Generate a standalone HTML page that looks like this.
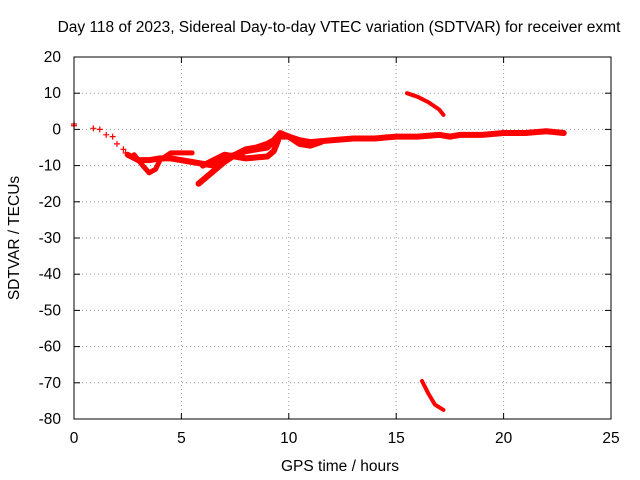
<!DOCTYPE html>
<html><head><meta charset="utf-8"><style>
body{margin:0;background:#fff}
svg{display:block;font-family:"Liberation Sans",sans-serif}
</style></head><body>
<svg id="chart" width="640" height="480" viewBox="0 0 640 480">
<rect width="640" height="480" fill="#fff"/>
<text x="339" y="32" font-size="15.5" text-anchor="middle">Day 118 of 2023, Sidereal Day-to-day VTEC variation (SDTVAR) for receiver exmt</text>
<text x="340" y="471" font-size="15.5" text-anchor="middle">GPS time / hours</text>
<text transform="translate(19,238) rotate(-90)" font-size="15.5" text-anchor="middle">SDTVAR / TECUs</text>
<g id="grid"></g>
<g id="ticks"></g>
<g id="series"></g>
<rect x="74" y="57" width="537" height="362" fill="none" stroke="#000" stroke-width="1"/>
</svg>
<script>
const xTicks=[0,5,10,15,20,25];
const yTicks=[20,10,0,-10,-20,-30,-40,-50,-60,-70,-80];
const trackMain=[[0,1.5],[0.1,1.5],[0.9,0.3],[1.2,0],[1.5,-1.5],[1.8,-2],[2.0,-4],[2.3,-5.5],[2.5,-7],[3,-8.5],[3.5,-8.5],[4,-8],[4.5,-8],[5,-8.5],[5.5,-9],[6,-9.5],[6.5,-10],[7,-8],[7.5,-7],[8,-6],[8.5,-5.5],[9,-5],[9.5,-2],[10,-2],[10.5,-3],[11,-3.5],[12,-3],[13,-2.5],[14,-2.5],[15,-2],[16,-2],[17,-1.5],[17.5,-2],[18,-1.5],[19,-1.5],[20,-1],[21,-1],[22,-0.5],[22.8,-1]];
const trackB=[[2.8,-7],[3.2,-10],[3.5,-12],[3.8,-11],[4,-8.5],[4.5,-6.5],[5,-6.5],[5.5,-6.5]];
const trackC=[[5.8,-15],[6.2,-13],[6.6,-11],[7,-9],[7.5,-7],[8,-5.5],[8.5,-5],[9,-4],[9.3,-3],[9.6,-1],[10,-2],[10.5,-4],[11,-4.5],[11.5,-3.5]];
const trackD=[[15.5,10],[16,9],[16.5,7.5],[17,5.5],[17.2,4]];
const trackE=[[16.2,-69.5],[16.5,-73],[16.8,-76],[17.2,-77.5]];
const trackF=[[6,-10],[7,-7],[8,-8],[9,-7.5],[9.3,-6],[9.5,-3]];
const earlyPts=[[0,1.5],[0,1],[0.9,0.3],[1.2,0],[1.5,-1.5],[1.8,-2],[2.0,-4],[2.3,-5.5],[2.4,-6.5]];
const X0=74,X1=611,Y0=419,Y1=57;
const xs=v=>X0+(v-0)/(25-0)*(X1-X0);
const ys=v=>Y0-(v+80)/100*(Y0-Y1);
const NS="http://www.w3.org/2000/svg";
function mk(t,a,p){const e=document.createElementNS(NS,t);for(const k in a)e.setAttribute(k,a[k]);p.appendChild(e);return e;}
const grid=document.getElementById('grid'),ticks=document.getElementById('ticks'),ser=document.getElementById('series'),svg=document.getElementById('chart');
xTicks.forEach(v=>{const x=xs(v);
 if(v>0&&v<25){const g=mk('line',{x1:x,x2:x,y1:Y1,y2:Y0,stroke:'#a0a0a0','stroke-dasharray':'1,3'},grid);}
 mk('line',{x1:x,x2:x,y1:Y0,y2:Y0-6,stroke:'#000'},ticks);mk('line',{x1:x,x2:x,y1:Y1,y2:Y1+6,stroke:'#000'},ticks);
 const t=mk('text',{x:x,y:443,'font-size':15.5,'text-anchor':'middle'},svg);t.textContent=v;
 });
yTicks.forEach(v=>{const y=ys(v);
 if(v<20&&v>-80){const g=mk('line',{x1:X0,x2:X1,y1:y,y2:y,stroke:'#a0a0a0','stroke-dasharray':'1,3'},grid);}
 mk('line',{x1:X0,x2:X0+6,y1:y,y2:y,stroke:'#000'},ticks);mk('line',{x1:X1,x2:X1-6,y1:y,y2:y,stroke:'#000'},ticks);
 const t=mk('text',{x:61,y:y+5,'font-size':15.5,'text-anchor':'end'},svg);t.textContent=v;
 });
function track(arr,name,w,skip){
 const pts=arr.slice(skip||0);
 const p=mk('polyline',{points:pts.map(d=>xs(d[0])+','+ys(d[1])).join(' '),fill:'none',stroke:'#f00','stroke-width':w,'stroke-linejoin':'round','stroke-linecap':'round'},ser);
 
}
track(trackMain,'main-track',6,8);
track(trackB,'dip-track',5);
track(trackC,'rise-track',6);
track(trackD,'upper-outlier-track',4);
track(trackE,'lower-outlier-track',4);
track(trackF,'secondary-track',6);
earlyPts.forEach(d=>{const x=xs(d[0]),y=ys(d[1]);
 const p=mk('path',{d:`M${x-3},${y}H${x+3}M${x},${y-3}V${y+3}`,stroke:'#f00','stroke-width':1.2},ser);
 });
</script>
</body></html>
